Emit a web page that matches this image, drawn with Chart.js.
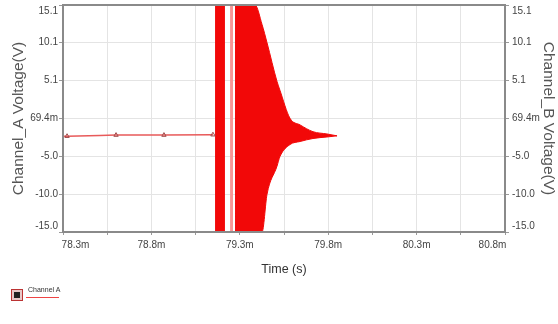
<!DOCTYPE html>
<html>
<head>
<meta charset="utf-8">
<script src="https://cdn.jsdelivr.net/npm/chart.js@4/dist/chart.umd.min.js"></script>
<style>
  html, body { margin: 0; padding: 0; background: #fff; }
  #wrap { position: relative; width: 558px; height: 324px; }
  #legend { position: absolute; left: 11px; top: 286px; font: 7px "Liberation Sans", Arial, sans-serif; color: #333; }
  #legend .icon { position: absolute; left: 0; top: 3px; width: 12px; height: 12px; background: #e8c8c8; border: 1px solid #b33; box-sizing: border-box; }
  #legend .icon b { position: absolute; left: 2px; top: 2px; width: 6px; height: 6px; background: #222; }
  #legend .txt { position: absolute; left: 17px; top: 0; white-space: nowrap; }
  #legend .line { position: absolute; left: 15px; top: 11px; width: 33px; height: 1px; background: #e44; }
</style>
</head>
<body>
<div id="wrap">
  <canvas id="scopeChart" width="558" height="324"></canvas>
  <div id="legend"><span class="icon"><b></b></span><span class="txt">Channel A</span><span class="line"></span></div>
</div>
<script>
// x axis in ms, y in volts
const xTicks = [78.3, 78.55, 78.8, 79.05, 79.3, 79.55, 79.8, 80.05, 80.3, 80.55, 80.8];
const yTicks = [-15.0, -10.0, -5.0, 0.0694, 5.1, 10.1, 15.1];
const yTickLabels = ["-15.0", "-10.0", "-5.0", "69.4m", "5.1", "10.1", "15.1"];

// Channel A before the burst
const chATime = [78.3, 78.323, 78.509, 78.6, 78.871, 79.148];
const chAVolt = [-2.3, -2.3, -2.2, -2.15, -2.15, -2.1];
const chAMarker = [0, 2.5, 0, 2.5, 2.5, 2.5];

// burst, first block
const burst1Time = [79.16, 79.216];
const burst1Top = [15.1, 15.1];
const burst1Bottom = [-15.0, -15.0];

// thin light strip
const burst2Time = [79.245, 79.262];
const burst2Top = [15.1, 15.1];
const burst2Bottom = [-15.0, -15.0];

// main decaying burst envelope
const burst3Time = [79.273, 79.386, 79.426, 79.454, 79.51, 79.527, 79.584, 79.641, 79.714, 79.793, 79.85];
const burst3Top = [15.1, 15.1, 12.5, 10.1, 5.0, 3.8, 0.07, -0.8, -1.7, -2.0, -2.25];
const burst3Bottom = [-15.0, -15.0, -15.0, -10.0, -6.3, -5.0, -3.4, -3.0, -2.6, -2.4, -2.25];

const RED = "rgb(242,8,8)";
const toPts = (xs, ys) => xs.map((x, i) => ({ x: x, y: ys[i] }));

function envelope(xs, top, bottom, color) {
  return [
    {
      data: toPts(xs, top),
      borderColor: color,
      backgroundColor: color,
      borderWidth: 1,
      pointRadius: 0,
      cubicInterpolationMode: "monotone",
      fill: "+1",
    },
    {
      data: toPts(xs, bottom),
      borderColor: color,
      backgroundColor: color,
      borderWidth: 1,
      pointRadius: 0,
      cubicInterpolationMode: "monotone",
      fill: false,
    },
  ];
}

const frame = {
  id: "frame",
  afterDraw(chart) {
    const { ctx, chartArea: a } = chart;
    ctx.save();
    ctx.strokeStyle = "#8a8a8a";
    ctx.lineWidth = 2;
    ctx.strokeRect(a.left, a.top, a.right - a.left, a.bottom - a.top);
    ctx.restore();
  },
};

const tickFont = { family: "'Liberation Sans Narrow', 'Liberation Sans', Arial, sans-serif", size: 10 };
const yTitleFont = { family: "'Liberation Sans', Arial, sans-serif", size: 15.5 };
const xTitleFont = { family: "'Liberation Sans', Arial, sans-serif", size: 12.5 };

function yLabel(value) {
  const i = yTicks.indexOf(value);
  if (i < 0) return "";
  if (i === yTicks.length - 1) return ["", yTickLabels[i]];
  if (i === 0) return [yTickLabels[i], ""];
  return yTickLabels[i];
}

// edge labels sit inside the plot, like the scope software does
function xLabel(value, index) {
  if (index % 2 !== 0) return "";
  const pad = "         ";
  const text = value.toFixed(1) + "m";
  if (index === 0) return pad + text;
  if (index === xTicks.length - 1) return text + pad;
  return text;
}

function fixY(width) {
  return (scale) => {
    scale.width = width;
    scale.paddingTop = 0;
    scale.paddingBottom = 0;
  };
}

const ctx = document.getElementById("scopeChart").getContext("2d");
const scopeChart = new Chart(ctx, {
  type: "line",
  data: {
    datasets: [
      {
        data: toPts(chATime, chAVolt),
        borderColor: "rgb(232,90,90)",
        borderWidth: 1.5,
        pointStyle: "triangle",
        pointRadius: chAMarker,
        pointBackgroundColor: "rgba(0,0,0,0)",
        pointBorderColor: "#a05050",
        pointBorderWidth: 1,
        fill: false,
      },
      ...envelope(burst1Time, burst1Top, burst1Bottom, RED),
      ...envelope(burst2Time, burst2Top, burst2Bottom, "rgb(248,150,150)"),
      ...envelope(burst3Time, burst3Top, burst3Bottom, RED),
    ],
  },
  options: {
    responsive: false,
    animation: false,
    layout: { padding: { top: 3, bottom: 44, left: 0, right: 0 } },
    plugins: {
      legend: { display: false },
      tooltip: { enabled: false },
    },
    scales: {
      x: {
        type: "linear",
        min: 78.3,
        max: 80.8,
        afterBuildTicks: (scale) => {
          scale.ticks = xTicks.map((v) => ({ value: v }));
        },
        afterFit: (scale) => {
          scale.height = 48;
          scale.paddingLeft = 0;
          scale.paddingRight = 0;
        },
        ticks: {
          autoSkip: false,
          maxRotation: 0,
          color: "#444",
          font: tickFont,
          padding: 4,
          callback: xLabel,
        },
        grid: { color: "#e4e4e4", tickLength: 3, tickColor: "#999" },
        border: { color: "#8a8a8a", width: 2 },
        title: { display: true, text: "Time (s)", color: "#333", font: xTitleFont, padding: { top: 0, bottom: 3 } },
      },
      y: {
        position: "left",
        min: -15.0,
        max: 15.1,
        afterBuildTicks: (scale) => {
          scale.ticks = yTicks.map((v) => ({ value: v }));
        },
        afterFit: fixY(63),
        ticks: { color: "#444", font: tickFont, padding: 1, callback: yLabel },
        grid: { color: "#e4e4e4", tickLength: 4, tickColor: "#999" },
        border: { color: "#8a8a8a", width: 2 },
        title: { display: true, text: "Channel_A Voltage(V)", color: "#555", font: yTitleFont, padding: { top: 9, bottom: 0 } },
      },
      y2: {
        position: "right",
        min: -15.0,
        max: 15.1,
        afterBuildTicks: (scale) => {
          scale.ticks = yTicks.map((v) => ({ value: v }));
        },
        afterFit: fixY(53),
        ticks: { color: "#444", font: tickFont, padding: 3, callback: yLabel },
        grid: { drawOnChartArea: false, tickLength: 4, tickColor: "#999" },
        border: { color: "#8a8a8a", width: 2 },
        title: { display: true, text: "Channel_B Voltage(V)", color: "#555", font: yTitleFont, padding: { top: 0, bottom: 0 } },
      },
    },
  },
  plugins: [frame],
});
</script>
</body>
</html>
